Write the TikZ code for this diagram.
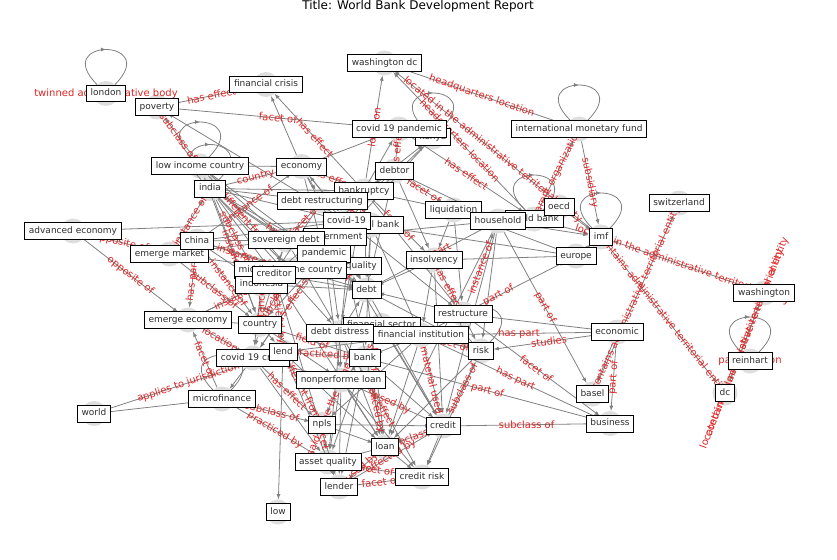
\documentclass[tikz,border=0pt]{standalone}
\usepackage{fontspec}
\setmainfont{DejaVu Sans}
\usetikzlibrary{decorations.markings}
\definecolor{labred}{RGB}{224,36,36}
\definecolor{boxtext}{RGB}{45,45,45}
\begin{document}
\begin{tikzpicture}[x=1pt,y=-1pt,
  blob/.style={circle,fill=black!13,minimum size=25pt,inner sep=0pt},
  nd/.style={draw=black,fill=white,line width=0.7pt,text=boxtext,font=\fontsize{9}{10}\selectfont,inner xsep=4.2pt,inner ysep=3.9pt,text height=6.9pt,text depth=2pt},
  ed/.style={-latex,draw=black!50,line width=0.8pt},
  ll/.style={text=labred,font=\fontsize{10}{12}\selectfont,inner sep=0pt},
  el/.style={ll,sloped,midway},
  selfloop/.style={draw=black!50,line width=0.8pt,decoration={markings,mark=at position 0.5 with {\arrow{latex}}},postaction={decorate}}]
\useasboundingbox (0,0) rectangle (837,559);
\node (title) at (418,6.5) {\fontsize{12}{14}\selectfont Title: World Bank Development Report};
% grey discs of the graph nodes
\foreach \n/\p in {london/{106,93.5},poverty/{157,107},fincrisis/{266,84.5},wdc/{384.5,63},kenya/{433,137},pand19/{399,129},imfund/{579,129},lowinc/{200,166},economy/{301.5,166.5},debtor/{394.5,171},india/{210,188.5},bankrupt/{364,191},debtrestr/{322,201},liquid/{453.5,210},wbank/{534,219},household/{498,221},oecd/{559,207},swiss/{679,203},adveco/{73,231},cbank/{371,225},covid/{346.5,221},govt/{335,237},sovdebt/{286,240},china/{197,241},imf/{601,237},emmarket/{169.5,254},quality/{347,266},pandemic/{324,253.5},europe/{576,256},insolv/{434,260},midinc/{290.5,270},indonesia/{261.5,284.5},creditor/{274,274.5},debt/{366.5,290},wash/{764,293},restr/{463,314},emeco/{188,320},country/{260,324.5},finsec/{381.5,325.5},distress/{340,332.5},fininst/{421,335},economic/{617,332},crisis19/{253,358},lend/{283,352},bank/{365,358},risk/{481,351},reinhart/{750,361},npl/{341,380},microfin/{222,399},dc/{725,393},basel/{592.5,394},world/{94,413.5},business/{610,423.5},npls/{322,424.5},credit/{443,426},loan/{385,447},assetq/{328,462},crrisk/{422,477},lender/{339,487},low/{278,512}}
  \node (\n) at (\p) [blob] {};
% self loops
\foreach \n in {london,lowinc,india,kenya,imfund,wbank,imf,risk,microfin,reinhart}
  \draw[selfloop] (\n.135) .. controls +(135:66pt) and +(45:66pt) .. (\n.45);
% plain edges
\foreach \a/\b in {economy/fincrisis,covid/poverty,oecd/imf,wbank/imf,household/imf,europe/imf,economic/basel,economic/restr,world/microfin,lend/low,adveco/covid,insolv/europe,liquid/europe,cbank/europe}
  \draw[ed] (\a) -- (\b);
\foreach \b in {country,economy,sovdebt,debt} \draw[ed] (lowinc) -- (\b);
\foreach \b in {sovdebt,covid,pandemic,creditor,distress,bankrupt,midinc,debtrestr} \draw[ed] (india) -- (\b);
\foreach \b in {sovdebt,debt,covid,indonesia} \draw[ed] (china) -- (\b);
\foreach \b in {midinc,sovdebt} \draw[ed] (emmarket) -- (\b);
\foreach \b in {debtrestr,covid,pandemic,pand19,debt} \draw[ed] (economy) -- (\b);
\foreach \b in {bankrupt,insolv,debt,household} \draw[ed] (debtor) -- (\b);
\foreach \b in {liquid,debt,restr,distress,kenya} \draw[ed] (bankrupt) -- (\b);
\foreach \b in {debt,restr,distress,creditor} \draw[ed] (debtrestr) -- (\b);
\foreach \b in {crisis19,pand19,economy,kenya} \draw[ed] (covid) -- (\b);
\foreach \b in {bank,fininst,debt} \draw[ed] (cbank) -- (\b);
\foreach \b in {debt,household} \draw[ed] (govt) -- (\b);
\foreach \b in {distress,country,creditor} \draw[ed] (sovdebt) -- (\b);
\foreach \b in {npl} \draw[ed] (pandemic) -- (\b);
\foreach \b in {insolv,restr,household} \draw[ed] (liquid) -- (\b);
\foreach \b in {credit,loan,risk} \draw[ed] (household) -- (\b);
\foreach \b in {fininst,credit,debt} \draw[ed] (insolv) -- (\b);
\foreach \b in {assetq,credit,loan} \draw[ed] (quality) -- (\b);
\foreach \b in {emeco} \draw[ed] (midinc) -- (\b);
\foreach \b in {debt,loan,lender} \draw[ed] (creditor) -- (\b);
\foreach \b in {credit,npl,risk} \draw[ed] (debt) -- (\b);
\foreach \b in {risk,debt} \draw[ed] (restr) -- (\b);
\foreach \b in {country} \draw[ed] (emeco) -- (\b);
\foreach \b in {crisis19,lend,npl} \draw[ed] (country) -- (\b);
\foreach \b in {fininst,risk,credit} \draw[ed] (finsec) -- (\b);
\foreach \b in {debt,npl,loan} \draw[ed] (distress) -- (\b);
\foreach \b in {bank,lend,loan,npls} \draw[ed] (fininst) -- (\b);
\foreach \b in {loan,lender} \draw[ed] (lend) -- (\b);
\foreach \b in {microfin,assetq,npl} \draw[ed] (crisis19) -- (\b);
\foreach \b in {credit,npl,lender,assetq} \draw[ed] (bank) -- (\b);
\foreach \b in {loan,assetq,crrisk,lender} \draw[ed] (npl) -- (\b);
\foreach \b in {loan,credit} \draw[ed] (npls) -- (\b);
\foreach \b in {crrisk} \draw[ed] (credit) -- (\b);
\foreach \b in {crrisk,assetq} \draw[ed] (loan) -- (\b);
\foreach \b in {lender} \draw[ed] (assetq) -- (\b);
\foreach \b in {crrisk,loan} \draw[ed] (risk) -- (\b);
\foreach \b in {debt,crisis19} \draw[ed] (indonesia) -- (\b);
% labelled edges
\draw[ed] (poverty) -- node[el] {has effect} (fincrisis);
\draw[ed] (pand19) -- node[el] {facet of} (poverty);
\draw[ed] (lowinc) -- node[el] {subclass of} (poverty);
\draw[ed] (bankrupt) -- node[el] {has effect} (fincrisis);
\draw[ed] (bankrupt) -- node[el] {location} (wdc);
\draw[ed] (imfund) -- node[el] {headquarters location} (wdc);
\draw[ed] (imf) -- node[el] {located in the administrative territorial entity} (wdc);
\draw[ed] (wbank) -- node[el] {headquarters location} (wdc);
\draw[ed] (pand19) -- node[el] {has effect} (wbank);
\draw[ed] (wbank) -- node[el] {parent organization} (imfund);
\draw[ed] (imfund) -- node[el] {subsidiary} (imf);
\draw[ed] (wash) -- node[el] {located in the administrative territorial entity} (imf);
\draw[ed] (imf) -- node[el] {contains administrative territorial entity} (dc);
\draw[ed] (dc) -- node[el] {located in the administrative territorial entity} (wash);
\draw[ed] (wash) -- node[el] {contains administrative territorial entity} (dc);
\draw[ed] (basel) -- node[el] {contains administrative territorial entity} (swiss);
\draw[ed] (economic) -- node[el] {part of} (business);
\draw[ed] (economic) -- node[el] {studies} (risk);
\draw[ed] (economic) -- node[el] {has part} (fininst);
\draw[ed] (household) -- node[el] {part of} (basel);
\draw[ed] (credit) -- node[el] {subclass of} (business);
\draw[ed] (restr) -- node[el] {facet of} (business);
\draw[ed] (fininst) -- node[el] {has part} (business);
\draw[ed] (bank) -- node[el] {part of} (business);
\draw[ed] (credit) -- node[el] {subclass of} (risk);
\draw[ed] (adveco) -- node[el] {opposite of} (emmarket);
\draw[ed] (adveco) -- node[el] {opposite of} (emeco);
\draw[ed] (china) -- node[el] {has part} (emeco);
\draw[ed] (emeco) -- node[el] {location} (crisis19);
\draw[ed] (microfin) -- node[el] {facet of} (emeco);
\draw[ed] (world) -- node[el] {applies to jurisdiction} (lend);
\draw[ed] (microfin) -- node[el] {subclass of} (npls);
\draw[ed] (microfin) -- node[el] {practiced by} (assetq);
\draw[ed] (lender) -- node[el] {facet of} (crrisk);
\draw[ed] (india) -- node[el] {country} (economy);
\draw[ed] (emmarket) -- node[el] {instance of} (india);
\draw[ed] (debtor) -- node[el] {has effect} (pand19);
\draw[ed] (debtor) -- node[el] {facet of} (liquid);
\draw[ed] (restr) -- node[el] {instance of} (household);
\draw[ed] (fininst) -- node[el] {part of} (europe);
\draw[ed] (country) -- node[el] {field of} (bank);
\draw[ed] (lend) -- node[el] {practiced by} (bank);
\draw[ed] (crisis19) -- node[el] {has effect} (npls);
\draw[ed] (lend) -- node[el] {different from} (npls);
\draw[ed] (fininst) -- node[el] {material used} (credit);
\draw[ed] (npl) -- node[el] {used by} (credit);
\draw[ed] (lender) -- node[el] {affected by} (credit);
\draw[ed] (china) -- node[el] {instance of} (country);
\draw[ed] (india) -- node[el] {instance of} (country);
\draw[ed] (india) -- node[el] {subclass of} (indonesia);
\draw[ed] (emeco) -- node[el] {instance of} (midinc);
\draw[ed] (china) -- node[el] {instance of} (economy);
\draw[ed] (indonesia) -- node[el] {instance of} (country);
\draw[ed] (kenya) -- node[el] {instance of} (country);
\draw[ed] (covid) -- node[el] {said to be the same as} (pandemic);
\draw[ed] (npl) -- node[el] {said to be the same as} (npls);
\draw[ed] (bankrupt) -- node[el] {facet of} (insolv);
\draw[ed] (debtrestr) -- node[el] {facet of} (sovdebt);
\draw[ed] (sovdebt) -- node[el] {subclass of} (debt);
\draw[ed] (debtor) -- node[el] {opposite of} (creditor);
\draw[ed] (creditor) -- node[el] {practiced by} (lend);
\draw[ed] (debt) -- node[el] {has part} (loan);
\draw[ed] (credit) -- node[el] {subclass of} (loan);
\draw[ed] (loan) -- node[el] {used by} (lender);
\draw[ed] (npls) -- node[el] {facet of} (assetq);
\draw[ed] (insolv) -- node[el] {has effect} (restr);
\draw[ed] (household) -- node[el] {has part} (debt);
\draw[ed] (bank) -- node[el] {practiced by} (loan);
\draw[ed] (assetq) -- node[el] {facet of} (crrisk);
\draw[ed] (distress) -- node[el] {has effect} (crrisk);
\draw[ed] (economy) -- node[el] {has effect} (bankrupt);
\draw[ed] (india) -- node[el] {has effect} (debt);
\draw[ed] (lowinc) -- node[el] {different from} (midinc);
\draw[ed] (china) -- node[el] {instance of} (midinc);
\draw[ed] (emmarket) -- node[el] {subclass of} (country);
\draw[ed] (midinc) -- node[el] {subclass of} (country);
\draw[ed] (pandemic) -- node[el] {has effect} (crisis19);
\draw[ed] (fininst) -- node[el] {facet of} (risk);
\draw[ed] (finsec) -- node[el] {has part} (bank);
\draw[ed] (govt) -- node[el] {facet of} (sovdebt);
% labels of the self loops
\node (london-lab) at (london) [ll] {twinned administrative body};
\node (reinhart-lab) at (reinhart) [ll] {participation};
% label boxes
\foreach \n/\t in {london/london,poverty/poverty,fincrisis/financial crisis,wdc/washington dc,kenya/kenya,pand19/covid 19 pandemic,imfund/international monetary fund,lowinc/low income country,economy/economy,debtor/debtor,india/india,bankrupt/bankruptcy,debtrestr/debt restructuring,liquid/liquidation,wbank/world bank,household/household,oecd/oecd,swiss/switzerland,adveco/advanced economy,cbank/central bank,covid/covid-19,govt/government,sovdebt/sovereign debt,emmarket/emerge market,china/china,imf/imf,quality/credit quality,pandemic/pandemic,europe/europe,insolv/insolvency,midinc/middle income country,indonesia/indonesia,creditor/creditor,debt/debt,wash/washington,restr/restructure,emeco/emerge economy,country/country,finsec/financial sector,distress/debt distress,fininst/financial institution,economic/economic,crisis19/covid 19 crisis,lend/lend,bank/bank,risk/risk,reinhart/reinhart,npl/nonperforme loan,microfin/microfinance,dc/dc,basel/basel,world/world,business/business,npls/npls,credit/credit,loan/loan,assetq/asset quality,crrisk/credit risk,lender/lender,low/low}
  \node (\n-box) at (\n) [nd] {\t};
\end{tikzpicture}
\end{document}
